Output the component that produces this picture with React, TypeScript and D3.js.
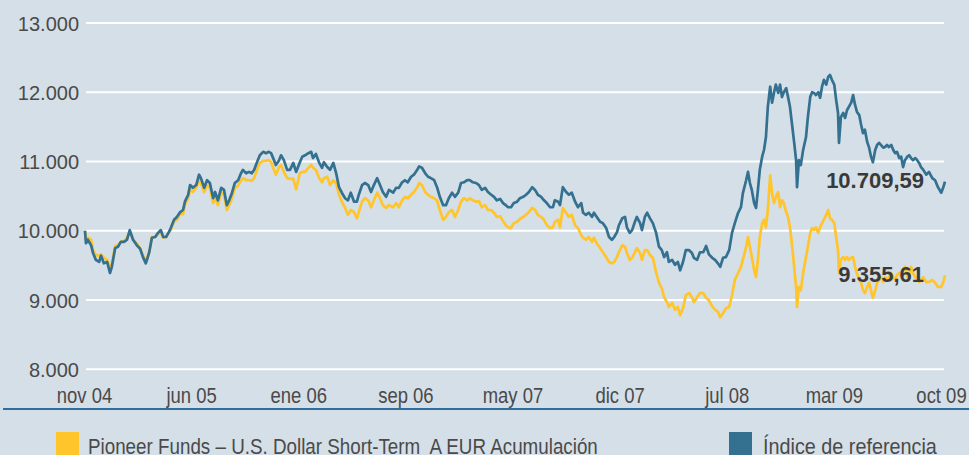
import React from "react";
import * as d3 from "d3";

const START = new Date(2004, 10, 1);
const SPAN_DAYS = 1825;

// days since 1 Nov 2004 for each observation
const dayOffsets = [
  0,2,6,13,17,23,30,34,40,47,53,57,64,70,76,83,89,95,102,110,117,123,129,136,142,149,155,161,166,172,178,182,189,195,202,208,212,219,223,229,236,242,246,253,259,265,272,276,282,289,295,301,306,312,318,325,331,335,342,348,354,359,365,371,378,384,390,395,401,405,412,416,422,429,435,442,448,456,
  461,467,474,480,484,490,497,503,507,514,520,527,533,539,545,552,558,564,571,577,581,588,594,601,607,613,620,626,632,639,645,654,660,666,673,679,685,692,698,705,709,715,722,728,734,741,747,753,760,766,772,779,785,792,798,804,811,817,823,830,836,842,849,855,862,868,874,
  881,887,893,898,904,910,917,923,930,936,942,949,955,961,968,974,980,987,993,997,1004,1008,1014,1021,1027,1033,1040,1046,1053,1057,1063,1069,1076,1080,1086,1093,1099,1106,1112,1118,1123,1129,1133,1140,1146,1150,1156,1161,1167,1171,1178,1182,1188,1193,1199,1205,1212,1218,1224,1229,1235,1239,1246,1252,1258,1263,1269,1275,1282,1288,1292,1299,
  1305,1312,1318,1324,1331,1337,1343,1348,1354,1360,1367,1373,1379,1386,1392,1396,1403,1407,1411,1415,1420,1424,1428,1432,1437,1441,1445,1449,1454,1458,1462,1466,1471,1475,1479,1483,1488,1492,1496,1500,1505,1509,1511,1515,1519,1524,1530,1534,1539,1543,1547,1551,1556,1560,1564,1568,1573,1577,1581,1585,1590,1594,1598,1600,1604,1609,1613,1617,1621,1626,1630,1634,1638,1643,1647,1651,1655,1660,1664,1668,1672,1677,1681,1685,1689,1694,1698,1702,1706,1711,1715,1719,1723,1728,1732,1736,1740,1745,1749,1753,1757,1762,1766,1770,1774,1779,1785,1791,1798,1804,1810,1817,1821,1825
];

// Pioneer Funds – U.S. Dollar Short-Term A EUR
const fundValues = [
  10000,9870,9900,9870,9720,9650,9640,9660,9610,9580,9460,9530,9780,9790,9840,9850,9900,9980,9870,9820,
  9740,9650,9550,9690,9910,9910,9950,9980,9900,9910,9980,10010,10130,10160,10240,10240,10370,10470,10600,10560,
  10620,10730,10690,10560,10660,10620,10400,10490,10370,10550,10520,10300,10370,10470,10620,10650,10730,10760,10730,10730,
  10720,10760,10880,10980,11010,11010,11020,10990,10880,10810,10920,10950,10850,10760,10750,10750,10600,10830,
  10850,10850,10910,10950,10910,10880,10760,10700,10760,10780,10660,10730,10690,10520,10420,10330,10230,10300,10270,10180,
  10270,10420,10470,10440,10340,10440,10550,10470,10370,10330,10370,10340,10400,10340,10440,10490,10470,10520,10560,10630,
  10690,10660,10560,10520,10490,10470,10440,10300,10160,10200,10270,10300,10200,10300,10420,10470,10440,10470,10440,10420,
  10430,10340,10370,10300,10300,10260,10200,
  10210,10140,10080,10050,10040,10110,10130,10170,10200,10230,10270,10330,10300,10230,10200,10160,10080,10040,10050,10130,
  10160,10050,10330,10260,10200,10230,10080,10040,9940,9900,9870,9910,9840,9900,9820,9750,9690,9620,9550,9530,
  9550,9620,9690,9790,9770,9680,9580,9610,9690,9750,9680,9580,9720,9720,9650,9610,9400,9250,9170,9040,
  8970,8900,8960,8860,8900,8780,8880,9070,9100,9040,8970,9040,
  9100,9100,9030,9000,8910,8860,8830,8750,8810,8880,8900,9070,9290,9390,9480,9580,9770,9910,9770,9620,
  9430,9330,9580,9910,10110,10160,10050,10300,10800,10540,10400,10490,10560,10340,10440,10400,10270,10200,10050,9820,
  9480,9190,8900,9190,9140,9390,9620,9770,9970,10040,10010,10050,9970,10050,10110,10160,10230,10300,10180,10160,
  10110,9910,9720,9390,9580,9620,9580,9620,9580,9610,9620,9480,9390,9290,9250,9140,9100,9190,9250,9140,
  9030,9140,9250,9290,9330,9260,9330,9290,9330,9390,9330,9290,9360,9390,9330,9430,9480,9330,9360,9480,
  9390,9330,9320,9260,9290,9330,9260,9260,9290,9250,9190,9190,9250,9355.61
];

// Índice de referencia
const indexValues = [
  10000,9820,9870,9790,9680,9580,9550,9640,9530,9550,9390,9480,9750,9770,9840,9840,9870,10010,9870,9790,
  9740,9620,9530,9680,9900,9910,9970,10010,9910,9910,9980,10040,10160,10200,10270,10300,10420,10520,10660,10620,
  10660,10810,10760,10620,10730,10690,10470,10560,10440,10620,10590,10370,10440,10550,10690,10730,10830,10880,10830,10850,
  10830,10880,10990,11090,11140,11120,11140,11120,11020,10950,11020,11090,11020,10880,10880,10980,10850,10990,
  11070,11090,11120,11140,11050,11110,10980,10910,10990,10920,10880,10980,10830,10630,10550,10470,10440,10550,10420,10420,
  10520,10660,10690,10660,10560,10660,10760,10660,10560,10490,10590,10550,10620,10620,10700,10730,10700,10780,10810,10880,
  10930,10910,10830,10780,10760,10730,10630,10490,10370,10370,10470,10550,10490,10550,10690,10700,10730,10730,10700,10690,
  10660,10590,10620,10560,10520,10490,10440,
  10460,10400,10370,10340,10340,10400,10420,10470,10490,10520,10560,10630,10590,10520,10490,10440,10400,10340,10340,10440,
  10420,10370,10630,10560,10520,10550,10420,10340,10400,10260,10230,10260,10200,10260,10200,10130,10110,10040,9910,9870,
  9910,9980,10080,10180,10200,10050,9970,10010,10130,10200,10110,10010,10200,10260,10180,10110,9970,9770,9720,9620,
  9690,9550,9580,9510,9550,9430,9550,9720,9720,9680,9610,9580,
  9690,9690,9780,9660,9610,9580,9530,9480,9610,9620,9720,9970,10110,10260,10340,10540,10730,10850,10690,10590,
  10400,10330,10590,10880,11070,11170,11350,11790,12080,11850,11990,12110,11990,12110,11930,12000,12060,11930,11790,11560,
  11270,11020,10630,11020,10950,11170,11350,11640,11930,12000,11990,11960,12000,11920,12080,12180,12110,12220,12250,12180,
  12110,11890,11700,11270,11640,11700,11630,11740,11790,11850,11960,11820,11720,11670,11530,11410,11460,11280,11200,11070,
  10990,11170,11240,11270,11240,11200,11210,11240,11210,11240,11170,11120,11140,11050,11070,10920,11020,11070,11090,11050,
  11020,11050,11020,10980,10920,10880,10810,10850,10760,10730,10630,10550,10620,10709.59
];

const xTickLabels = ["nov 04", "jun 05", "ene 06", "sep 06", "may 07", "dic 07", "jul 08", "mar 09", "oct 09"];
const yTicks = [8000, 9000, 10000, 11000, 12000, 13000];
const fundName = "Pioneer Funds – U.S. Dollar Short-Term  A EUR Acumulación";
const indexName = "Índice de referencia";

const W = 969;
const H = 455;
const BG = "#d5dfe7";
const FUND_COLOR = "#ffc52a";
const INDEX_COLOR = "#34708f";
const TEXT = "#4a4a4a";
const SANS = "'Liberation Sans', Arial, sans-serif";

const esLocale = d3.formatLocale({ decimal: ",", thousands: ".", grouping: [3], currency: ["", " €"] });
const fmtInt = esLocale.format(",.0f");
const fmt2 = esLocale.format(",.2f");

function NarrowText(props: { x: number; y: number; anchor?: string; size: number; sx?: number; children: React.ReactNode }) {
  return (
    <text
      transform={`translate(${props.x},${props.y}) scale(${props.sx ?? 0.84},1)`}
      textAnchor={props.anchor || "start"}
      fontFamily={SANS}
      fontSize={props.size}
      fill={TEXT}
      style={{ whiteSpace: "pre" }}
    >
      {props.children}
    </text>
  );
}

export default function App() {
  const x = d3.scaleTime().domain([START, d3.timeDay.offset(START, SPAN_DAYS)]).range([85, 945]);
  const y = d3.scaleLinear().domain([8000, 13000]).range([369.3, 23]);
  const tickX = d3.scalePoint<string>().domain(xTickLabels).range([84.5, 941.5]);

  const n = Math.min(dayOffsets.length, fundValues.length, indexValues.length);
  const rows = d3.range(n).map((i) => ({
    date: d3.timeDay.offset(START, dayOffsets[i]),
    fund: fundValues[i],
    index: indexValues[i],
  }));
  const fundLine = d3.line<any>().x((d) => x(d.date)).y((d) => y(d.fund));
  const indexLine = d3.line<any>().x((d) => x(d.date)).y((d) => y(d.index));
  const last = rows[rows.length - 1];

  return (
    <svg width={W} height={H} style={{ position: "absolute", left: 0, top: 0, display: "block" }}>
      <rect x={0} y={0} width={W} height={H} fill={BG} />
      {yTicks.map((t) => (
        <g key={t}>
          <line x1={86} x2={944} y1={y(t)} y2={y(t)} stroke="#ffffff" strokeWidth={2} />
          <text x={79} y={y(t) + 7.5} textAnchor="end" fontFamily={SANS} fontSize={20} fill={TEXT}>
            {fmtInt(t)}
          </text>
        </g>
      ))}
      <path d={fundLine(rows) || ""} fill="none" stroke={FUND_COLOR} strokeWidth={2.7} strokeLinejoin="round" />
      <path d={indexLine(rows) || ""} fill="none" stroke={INDEX_COLOR} strokeWidth={2.7} strokeLinejoin="round" />
      <text x={x(last.date) - 21} y={y(last.index) + 6.5} textAnchor="end" fontFamily={SANS} fontWeight="bold" fontSize={22} fill="#3a3a3a">
        {fmt2(last.index)}
      </text>
      <text x={x(last.date) - 21} y={y(last.fund) + 6.6} textAnchor="end" fontFamily={SANS} fontWeight="bold" fontSize={22} fill="#3a3a3a">
        {fmt2(last.fund)}
      </text>
      {xTickLabels.map((l) => (
        <NarrowText key={l} x={tickX(l) as number} y={403} anchor="middle" size={22}>
          {l}
        </NarrowText>
      ))}
      <line x1={3} x2={W} y1={409} y2={409} stroke="#2f6e9e" strokeWidth={2} />
      <rect x={56} y={432} width={23} height={23} fill={FUND_COLOR} />
      <NarrowText x={88} y={454} size={22} sx={0.855}>
        {fundName}
      </NarrowText>
      <rect x={729} y={432} width={23} height={23} fill={INDEX_COLOR} />
      <NarrowText x={763} y={454} size={22.5} sx={0.88}>
        {indexName}
      </NarrowText>
    </svg>
  );
}
